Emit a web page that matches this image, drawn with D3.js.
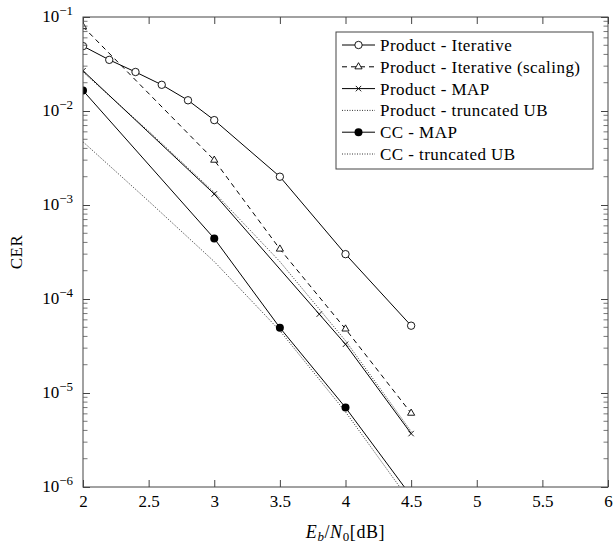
<!DOCTYPE html>
<html>
<head>
<meta charset="utf-8">
<script src="https://cdn.jsdelivr.net/npm/d3@7"></script>
<style>
  body { margin: 0; background: #fff; }
  svg { font-family: "Liberation Serif", "DejaVu Serif", serif; }
  .axis path, .axis line { stroke: #444; }
</style>
</head>
<body>
<svg width="615" height="544"></svg>
<script>
// Product - Iterative
const snrIter = [2, 2.2, 2.4, 2.6, 2.8, 3, 3.5, 4, 4.5];
const cerIter = [0.049, 0.035, 0.026, 0.019, 0.013, 0.008, 0.002, 0.0003, 0.000052];
// Product - Iterative (scaling)
const snrScaling = [2, 3, 3.5, 4, 4.5];
const cerScaling = [0.079, 0.0030, 0.00034, 0.000048, 0.0000061];
// Product - MAP
const snrMap = [2, 3, 3.8, 4, 4.5];
const cerMap = [0.0268, 0.00131, 0.000069, 0.000033, 0.0000037];
// Product - truncated UB
const snrProdUB = [2, 2.5, 3, 3.5, 4, 4.5];
const cerProdUB = [0.026, 0.0061, 0.00136, 0.00025, 0.000036, 0.0000039];
// CC - MAP
const snrCC = [2, 3, 3.5, 4, 4.5];
const cerCC = [0.0165, 0.00044, 0.0000495, 0.000007, 0.0000008];
// CC - truncated UB
const snrCCUB = [2, 2.5, 3, 3.5, 4, 4.5];
const cerCCUB = [0.0047, 0.0011, 0.00025, 0.000046, 0.0000063, 0.00000068];

const xTicks = [2, 2.5, 3, 3.5, 4, 4.5, 5, 5.5, 6];
const yTicks = [1e-1, 1e-2, 1e-3, 1e-4, 1e-5, 1e-6];

const svg = d3.select('svg');
const margin = {top: 17, right: 7, bottom: 57, left: 83};
const width = +svg.attr('width') - margin.left - margin.right;
const height = +svg.attr('height') - margin.top - margin.bottom;
const g = svg.append('g')
  .attr('transform', `translate(${margin.left},${margin.top})`);

const x = d3.scaleLinear().domain([2, 6]).range([0, width]);
const y = d3.scaleLog().domain([1e-6, 1e-1]).range([height, 0]);

const series = [
  {name: 'Product - Iterative', xs: snrIter, ys: cerIter, dash: null, marker: 'circle'},
  {name: 'Product - Iterative (scaling)', xs: snrScaling, ys: cerScaling, dash: '5,4', marker: 'triangle'},
  {name: 'Product - MAP', xs: snrMap, ys: cerMap, dash: null, marker: 'cross'},
  {name: 'Product - truncated UB', xs: snrProdUB, ys: cerProdUB, dash: '1,1.5', marker: null},
  {name: 'CC - MAP', xs: snrCC, ys: cerCC, dash: null, marker: 'dot'},
  {name: 'CC - truncated UB', xs: snrCCUB, ys: cerCCUB, dash: '1,1.5', marker: null}
];

svg.append('defs').append('clipPath').attr('id', 'clip')
  .append('rect').attr('width', width).attr('height', height);

const line = d3.line().x(d => x(d[0])).y(d => y(d[1]));

function drawMarker(sel, type) {
  if (type === 'circle') {
    sel.append('circle').attr('r', 3.7).attr('fill', '#fff').attr('stroke', '#000').attr('stroke-width', 0.9);
  } else if (type === 'dot') {
    sel.append('circle').attr('r', 4).attr('fill', '#000');
  } else if (type === 'triangle') {
    sel.append('path').attr('d', d3.symbol(d3.symbolTriangle, 22)())
      .attr('fill', '#fff').attr('stroke', '#000').attr('stroke-width', 0.9);
  } else if (type === 'cross') {
    sel.append('path').attr('d', 'M-2.7,-2.7L2.7,2.7M-2.7,2.7L2.7,-2.7')
      .attr('stroke', '#000').attr('stroke-width', 0.9);
  }
}

const plot = g.append('g').attr('clip-path', 'url(#clip)');

series.forEach(s => {
  const pts = s.xs.map((v, i) => [v, s.ys[i]]);
  plot.append('path')
    .datum(pts)
    .attr('fill', 'none')
    .attr('stroke', '#000')
    .attr('stroke-width', s.marker ? 1 : 0.8)
    .attr('stroke-dasharray', s.dash)
    .attr('d', line);
  if (s.marker) {
    plot.selectAll(null)
      .data(pts.filter(d => d[1] >= 1e-6))
      .enter().append('g')
        .attr('transform', d => `translate(${x(d[0])},${y(d[1])})`)
        .each(function() { drawMarker(d3.select(this), s.marker); });
  }
});

// frame
g.append('rect')
  .attr('width', width).attr('height', height)
  .attr('fill', 'none').attr('stroke', '#444').attr('stroke-width', 1);

// x axes (bottom with labels, top mirrored)
g.append('g')
  .attr('class', 'axis')
  .attr('transform', `translate(0,${height})`)
  .call(d3.axisBottom(x).tickValues(xTicks).tickFormat(d3.format('')).tickSize(-7).tickPadding(8))
  .call(a => a.select('.domain').remove())
  .selectAll('text')
    .attr('fill', '#000')
    .style('font-size', '17px')
    .style('font-family', '"Liberation Serif", serif');

g.append('g')
  .attr('class', 'axis')
  .call(d3.axisTop(x).tickValues(xTicks).tickFormat('').tickSize(-7))
  .call(a => a.select('.domain').remove());

// y axes
const yAxis = g.append('g')
  .attr('class', 'axis')
  .call(d3.axisLeft(y).tickValues(yTicks).tickFormat('').tickSize(-7).tickPadding(10))
  .call(a => a.select('.domain').remove());

yAxis.selectAll('.tick text')
  .attr('fill', '#000')
  .attr('dy', '0.45em')
  .style('font-family', '"Liberation Serif", serif')
  .each(function(d) {
    const t = d3.select(this);
    t.append('tspan').style('font-size', '17px').text('10');
    t.append('tspan').style('font-size', '13px').attr('dy', '-7')
      .text('\u2212' + Math.round(-Math.log10(d)));
  });

g.append('g')
  .attr('class', 'axis')
  .attr('transform', `translate(${width},0)`)
  .call(d3.axisRight(y).tickValues(yTicks).tickFormat('').tickSize(-7))
  .call(a => a.select('.domain').remove());

// minor log ticks
const minor = [];
for (let e = -6; e < -1; e++) {
  for (let k = 2; k <= 9; k++) minor.push(k * Math.pow(10, e));
}
[[0, 4.5], [width, width - 4.5]].forEach(([x0, x1]) => {
  g.append('g').selectAll('line')
    .data(minor)
    .enter().append('line')
      .attr('x1', x0).attr('x2', x1)
      .attr('y1', d => y(d)).attr('y2', d => y(d))
      .attr('stroke', '#555').attr('stroke-width', 0.8);
});

// axis labels
const xl = svg.append('text')
  .attr('x', margin.left + width / 2)
  .attr('y', 538)
  .attr('text-anchor', 'middle')
  .style('font-size', '18px')
  .style('letter-spacing', '0.6px');
xl.append('tspan').style('font-style', 'italic').text('E');
xl.append('tspan').style('font-style', 'italic').style('font-size', '13px').attr('dy', 3).text('b');
xl.append('tspan').attr('dy', -3).text('/');
xl.append('tspan').style('font-style', 'italic').text('N');
xl.append('tspan').style('font-size', '13px').attr('dy', 3).text('0');
xl.append('tspan').attr('dy', -3).text('[dB]');

svg.append('text')
  .attr('transform', `translate(21.5,${margin.top + height / 2}) rotate(-90)`)
  .attr('text-anchor', 'middle')
  .style('font-size', '17px')
  .style('letter-spacing', '0.5px')
  .text('CER');

// legend
const legend = svg.append('g').attr('transform', 'translate(336,32)');
legend.append('rect')
  .attr('width', 257).attr('height', 137)
  .attr('fill', '#fff').attr('stroke', '#444').attr('stroke-width', 1);

const rows = legend.selectAll('.row')
  .data(series)
  .enter().append('g')
    .attr('class', 'row')
    .attr('transform', (d, i) => `translate(0,${13 + i * 21.8})`);

rows.append('line')
  .attr('x1', 6).attr('x2', 39)
  .attr('stroke', '#000')
  .attr('stroke-width', d => d.marker ? 1 : 0.8)
  .attr('stroke-dasharray', d => d.dash);

rows.each(function(d) {
  if (d.marker) {
    drawMarker(d3.select(this).append('g').attr('transform', 'translate(22.5,0)'), d.marker);
  }
});

rows.append('text')
  .attr('x', 44)
  .attr('dy', '0.35em')
  .style('font-size', '17px')
  .style('letter-spacing', '0.45px')
  .text(d => d.name);
</script>
</body>
</html>
